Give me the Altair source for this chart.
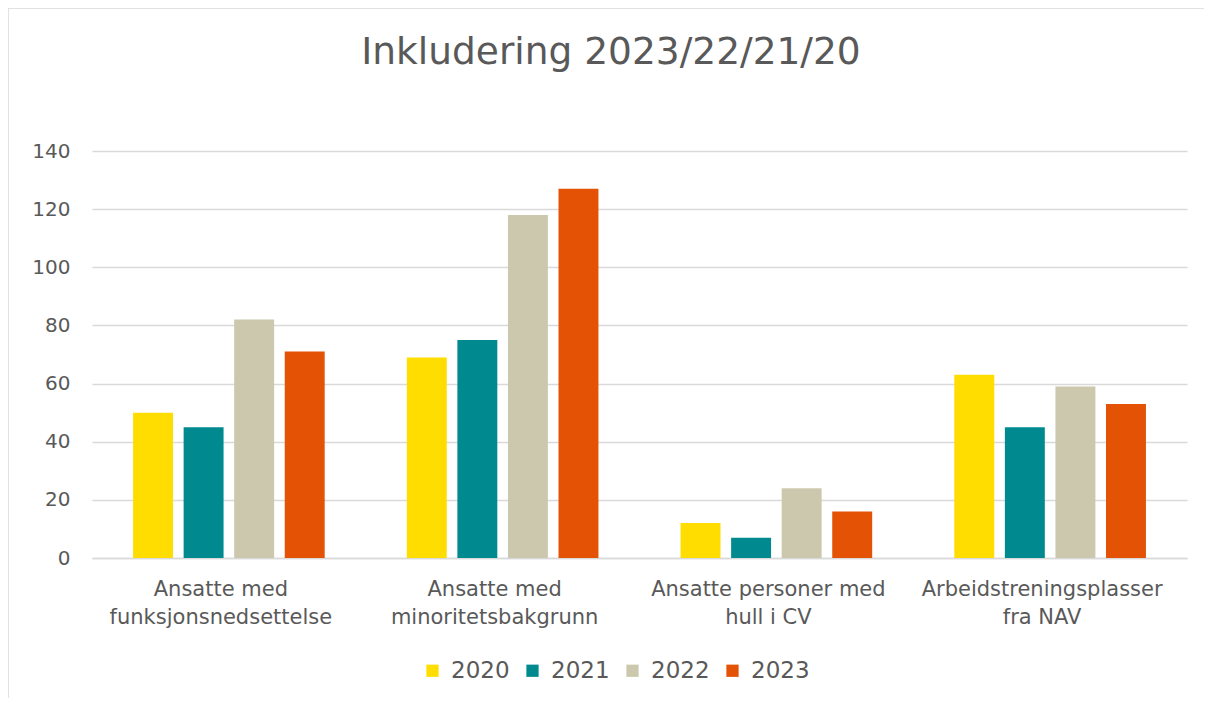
import altair as alt
import pandas as pd

title_text = "Inkludering 2023/22/21/20"
categories = [
    "Ansatte med funksjonsnedsettelse",
    "Ansatte med minoritetsbakgrunn",
    "Ansatte personer med hull i CV",
    "Arbeidstreningsplasser fra NAV",
]
years = ["2020", "2021", "2022", "2023"]
values_2020 = [50, 69, 12, 63]
values_2021 = [45, 75, 7, 45]
values_2022 = [82, 118, 24, 59]
values_2023 = [71, 127, 16, 53]
colors = ["#FFDD00", "#008A8F", "#CCC8AD", "#E35205"]
y_ticks = [0, 20, 40, 60, 80, 100, 120, 140]

label_lines = {
    "Ansatte med funksjonsnedsettelse": "Ansatte med|funksjonsnedsettelse",
    "Ansatte med minoritetsbakgrunn": "Ansatte med|minoritetsbakgrunn",
    "Ansatte personer med hull i CV": "Ansatte personer med|hull i CV",
    "Arbeidstreningsplasser fra NAV": "Arbeidstreningsplasser|fra NAV",
}

rows = []
for year, vals in zip(years, [values_2020, values_2021, values_2022, values_2023]):
    for cat, v in zip(categories, vals):
        rows.append({"Kategori": label_lines[cat], "År": year, "Verdi": v})
df = pd.DataFrame(rows)

FONT = "DejaVu Sans"
TXT = "#595959"
GRID = "#D9D9D9"

bars = alt.Chart(df).mark_bar().encode(
    x=alt.X(
        "Kategori:N",
        sort=[label_lines[c] for c in categories],
        title=None,
        scale=alt.Scale(paddingInner=0.30, paddingOuter=0.15),
        axis=alt.Axis(
            labelAngle=0,
            labelExpr="split(datum.label, '|')",
            labelFont=FONT,
            labelFontSize=21,
            labelColor=TXT,
            labelLineHeight=28,
            labelPadding=20,
            labelOffset=-8,
            ticks=False,
            domain=True,
            domainColor=GRID,
            domainWidth=1.5,
            labelLimit=400,
        ),
    ),
    xOffset=alt.XOffset("År:N", scale=alt.Scale(paddingInner=0.21)),
    y=alt.Y(
        "Verdi:Q",
        title=None,
        scale=alt.Scale(domain=[0, 140], nice=False),
        axis=alt.Axis(
            values=y_ticks,
            labelFont=FONT,
            labelFontSize=20,
            labelColor=TXT,
            labelPadding=22,
            ticks=False,
            domain=False,
            grid=True,
            gridColor=GRID,
            gridWidth=1.5,
        ),
    ),
    color=alt.Color(
        "År:N",
        scale=alt.Scale(domain=years, range=colors),
        legend=alt.Legend(
            title=None,
            orient="none",
            direction="horizontal",
            legendX=329,
            legendY=508,
            symbolType="square",
            symbolSize=150,
            symbolStrokeWidth=0,
            labelFont=FONT,
            labelFontSize=23,
            labelColor=TXT,
            labelOffset=7,
            columnPadding=11,
        ),
    ),
)

frame_df = pd.DataFrame({"t": [title_text]})
left_border = alt.Chart(frame_df).mark_rule(color=GRID, strokeWidth=1.5).encode(
    x=alt.value(-84), y=alt.value(-143), y2=alt.value(553)
)
top_border = alt.Chart(frame_df).mark_rule(color=GRID, strokeWidth=1.5).encode(
    x=alt.value(-84), x2=alt.value(1120), y=alt.value(-143)
)
title = alt.Chart(frame_df).mark_text(
    font=FONT, fontSize=37.5, color=TXT, align="center", baseline="alphabetic"
).encode(text="t:N", x=alt.value(519), y=alt.value(-87))

chart = alt.layer(bars, left_border, top_border, title).properties(
    width=1095,
    height=407,
    autosize=alt.AutoSizeParams(type="none"),
    padding={"left": 84, "top": 143, "right": 17, "bottom": 140},
).configure(background="white", view=alt.ViewConfig(strokeWidth=0, stroke="transparent"))

chart.save("out.html", embed_options={"renderer": "svg", "actions": False})
